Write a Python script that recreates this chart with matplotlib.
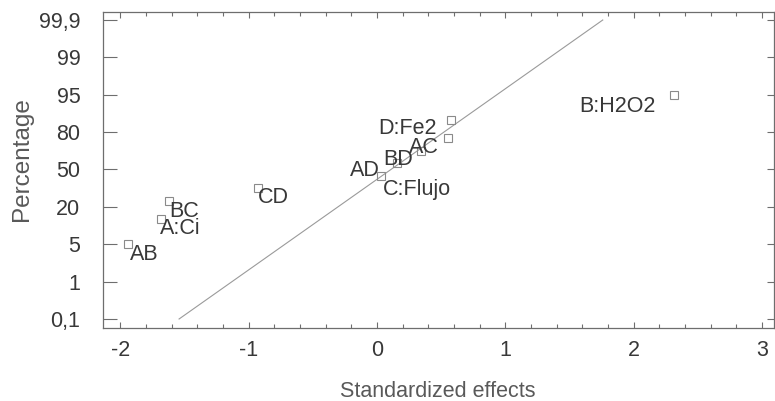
import numpy as np
import matplotlib
matplotlib.use("Agg")
import matplotlib.pyplot as plt
from matplotlib.ticker import FixedLocator, MultipleLocator, NullLocator

plt.rcParams['font.family'] = ['Liberation Sans', 'DejaVu Sans']

# ---- data ----
effect_names = ["AB", "A:Ci", "BC", "CD", "C:Flujo", "AD", "BD", "AC", "D:Fe2", "B:H2O2"]
std_effects = [-1.943, -1.687, -1.625, -0.925, 0.029, 0.158, 0.343, 0.556, 0.574, 2.315]
percentages = [5, 15, 25, 35, 45, 55, 65, 75, 85, 95]
ref_line_x = [-1.543, 1.76]
ref_line_pct = [0.1, 99.9]
y_tick_values = [0.1, 1, 5, 20, 50, 80, 95, 99, 99.9]
y_tick_labels = ["0,1", "1", "5", "20", "50", "80", "95", "99", "99,9"]
x_ticks = [-2, -1, 0, 1, 2, 3]

# ---- label placement (style: ha, dx px, dy px relative to point, baseline) ----
label_style = {
    "AB": ("left", 2.3, -15.8),
    "A:Ci": ("left", -0.5, -15.0),
    "BC": ("left", 0.5, -16.7),
    "CD": ("left", 0.0, -14.7),
    "C:Flujo": ("left", 2.3, -19.5),
    "AD": ("right", -17.3, -12.6),
    "BD": ("right", -8.0, -14.0),
    "AC": ("right", -9.3, -15.0),
    "D:Fe2": ("right", -13.7, -14.3),
    "B:H2O2": ("right", -18.0, -17.0),
}

PCT = np.array(y_tick_values, float)
POS = np.arange(len(PCT), dtype=float)


def fwd(p):
    p = np.asarray(p, float)
    out = np.interp(p, PCT, POS)
    out = np.where(p < PCT[0], (p - PCT[0]) / (PCT[1] - PCT[0]), out)
    out = np.where(p > PCT[-1], POS[-1] + (p - PCT[-1]) / (PCT[-1] - PCT[-2]), out)
    return out


def inv(z):
    z = np.asarray(z, float)
    out = np.interp(z, POS, PCT)
    out = np.where(z < 0, PCT[0] + z * (PCT[1] - PCT[0]), out)
    out = np.where(z > POS[-1], PCT[-1] + (z - POS[-1]) * (PCT[-1] - PCT[-2]), out)
    return out


W, H = 775, 401
fig = plt.figure(figsize=(W / 100, H / 100), dpi=100)
ax = fig.add_axes([102.5 / W, (H - 327.7) / H, (774 - 102.5) / W, (327.7 - 12.3) / H])

spine_col = "#6e6e6e"
text_col = "#383838"
label_col = "#595959"

ax.set_yscale('function', functions=(fwd, inv))
ylim = (float(inv(-0.233)), float(inv(8.206)))
ax.set_ylim(*ylim)
ax.set_xlim(-2.14, 3.095)

ax.plot(ref_line_x, ref_line_pct, color="#9a9a9a", lw=0.8)
ax.plot(std_effects, percentages, linestyle="none", marker="s", markersize=5.5,
        markerfacecolor="none", markeredgecolor="#8a8a8a", markeredgewidth=0.8)

for name, x, p in zip(effect_names, std_effects, percentages):
    ha, dx, dy = label_style[name]
    ax.annotate(name, (x, p), xytext=(dx * 0.72, dy * 0.72), textcoords="offset points",
                ha=ha, va="baseline", fontsize=15.5, color=text_col)

ax.xaxis.set_major_locator(FixedLocator(x_ticks))
ax.xaxis.set_minor_locator(MultipleLocator(0.2))
ax.set_xticklabels([str(t) for t in x_ticks])
ax.yaxis.set_major_locator(FixedLocator(y_tick_values))
ax.yaxis.set_minor_locator(NullLocator())
ax.set_yticklabels(y_tick_labels)

ax.tick_params(axis='x', which='major', direction='in', length=4.3, width=0.8,
               top=True, bottom=True, color=spine_col, labelsize=15.5, labelcolor=text_col, pad=9)
ax.tick_params(axis='x', which='minor', direction='in', length=2.8, width=0.8,
               top=True, bottom=True, color=spine_col)
ax.tick_params(axis='y', which='major', direction='in', length=10, width=0.8,
               left=True, right=False, color=spine_col, labelsize=15.5, labelcolor=text_col, pad=16)

ax2 = ax.twinx()
ax2.set_yscale('function', functions=(fwd, inv))
ax2.set_ylim(*ylim)
ax2.yaxis.set_major_locator(FixedLocator(y_tick_values))
ax2.yaxis.set_minor_locator(NullLocator())
ax2.tick_params(axis='y', which='major', direction='in', length=5, width=0.8,
                right=True, left=False, labelright=False, color=spine_col)
for s in ax2.spines.values():
    s.set_visible(False)

for s in ax.spines.values():
    s.set_color(spine_col)
    s.set_linewidth(0.9)

ax.set_xlabel("Standardized effects", fontsize=15.5, color=label_col, labelpad=14)
ax.set_ylabel("Percentage", fontsize=17.5, color=label_col)
ax.yaxis.set_label_coords(-0.104, 0.535)

fig.savefig("out.png", dpi=100)
